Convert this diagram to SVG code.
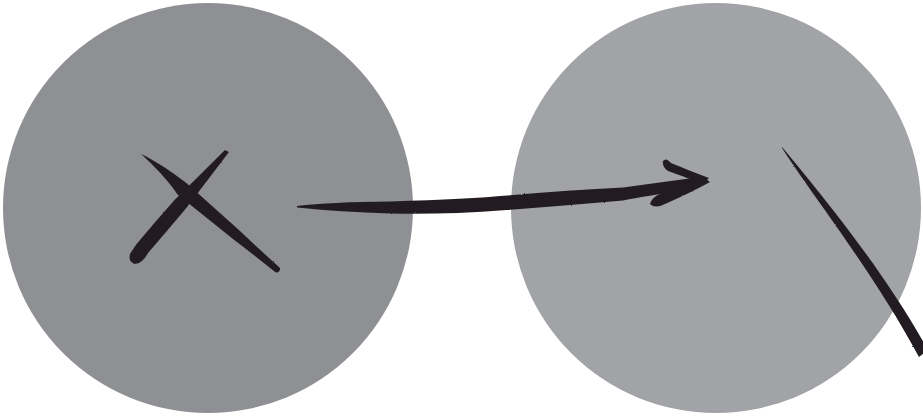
<svg xmlns="http://www.w3.org/2000/svg" width="923" height="416" viewBox="0 0 923 416">
<defs>
<filter id="brush" x="-5%" y="-5%" width="110%" height="110%">
<feTurbulence type="fractalNoise" baseFrequency="0.9" numOctaves="2" seed="3" result="n"/>
<feDisplacementMap in="SourceGraphic" in2="n" scale="1.6" xChannelSelector="R" yChannelSelector="G"/>
</filter>
</defs>
<style>
.ink{fill:#231f20;filter:url(#brush)}
.c1{fill:#8f9094}
.c2{fill:#a2a3a7}
</style>
<rect width="923" height="416" fill="#ffffff"/>
<g id="node-x">
<circle class="c1" cx="208" cy="208" r="205"/>
<path class="ink" d="M141,154 C154,166 168,180 177.5,194.5 L233,239 Q254,255 274.5,271.5 A2.8,2.8 0 0 0 279,267 Q259,249 240,231 L187,183.5 C172,172 156,161 141,154 Z"/>
<path class="ink" d="M225,150 L229,152 Q207,181 185.5,209 Q167,231 148,253 Q142,264 135,264 Q128,262 130,254 Q133,249 137,243.5 Q155,222 174.5,200 Q199,176 225,150 Z"/>
</g>
<g id="node-2">
<circle class="c2" cx="716" cy="208" r="205"/>
</g>
<g id="connectors">
<path class="ink" d="M297,206 Q330,202 390,201.5 Q470,199 507,195.5 Q570,190 623,187.5 L700,177 L708,181 L690,189.5 Q640,197 623,200.5 Q560,206 507,210 Q440,215 390,213.5 Q340,212 297,207.5 Z"/>
<path class="ink" d="M663,161 Q666,157 671,163 Q690,171 709,178 L703,184 Q685,177 668,171 Q662,167 663,161 Z"/>
<path class="ink" d="M650,204 Q652,197 660,194 Q685,184 703,177 L710,182 Q690,193 665,204 Q655,209 650,204 Z"/>
<path class="ink" d="M782,147 C816,188 882,267 928,350 L919,357 C874,273 812,195 782,148 Z"/>
</g>
</svg>
